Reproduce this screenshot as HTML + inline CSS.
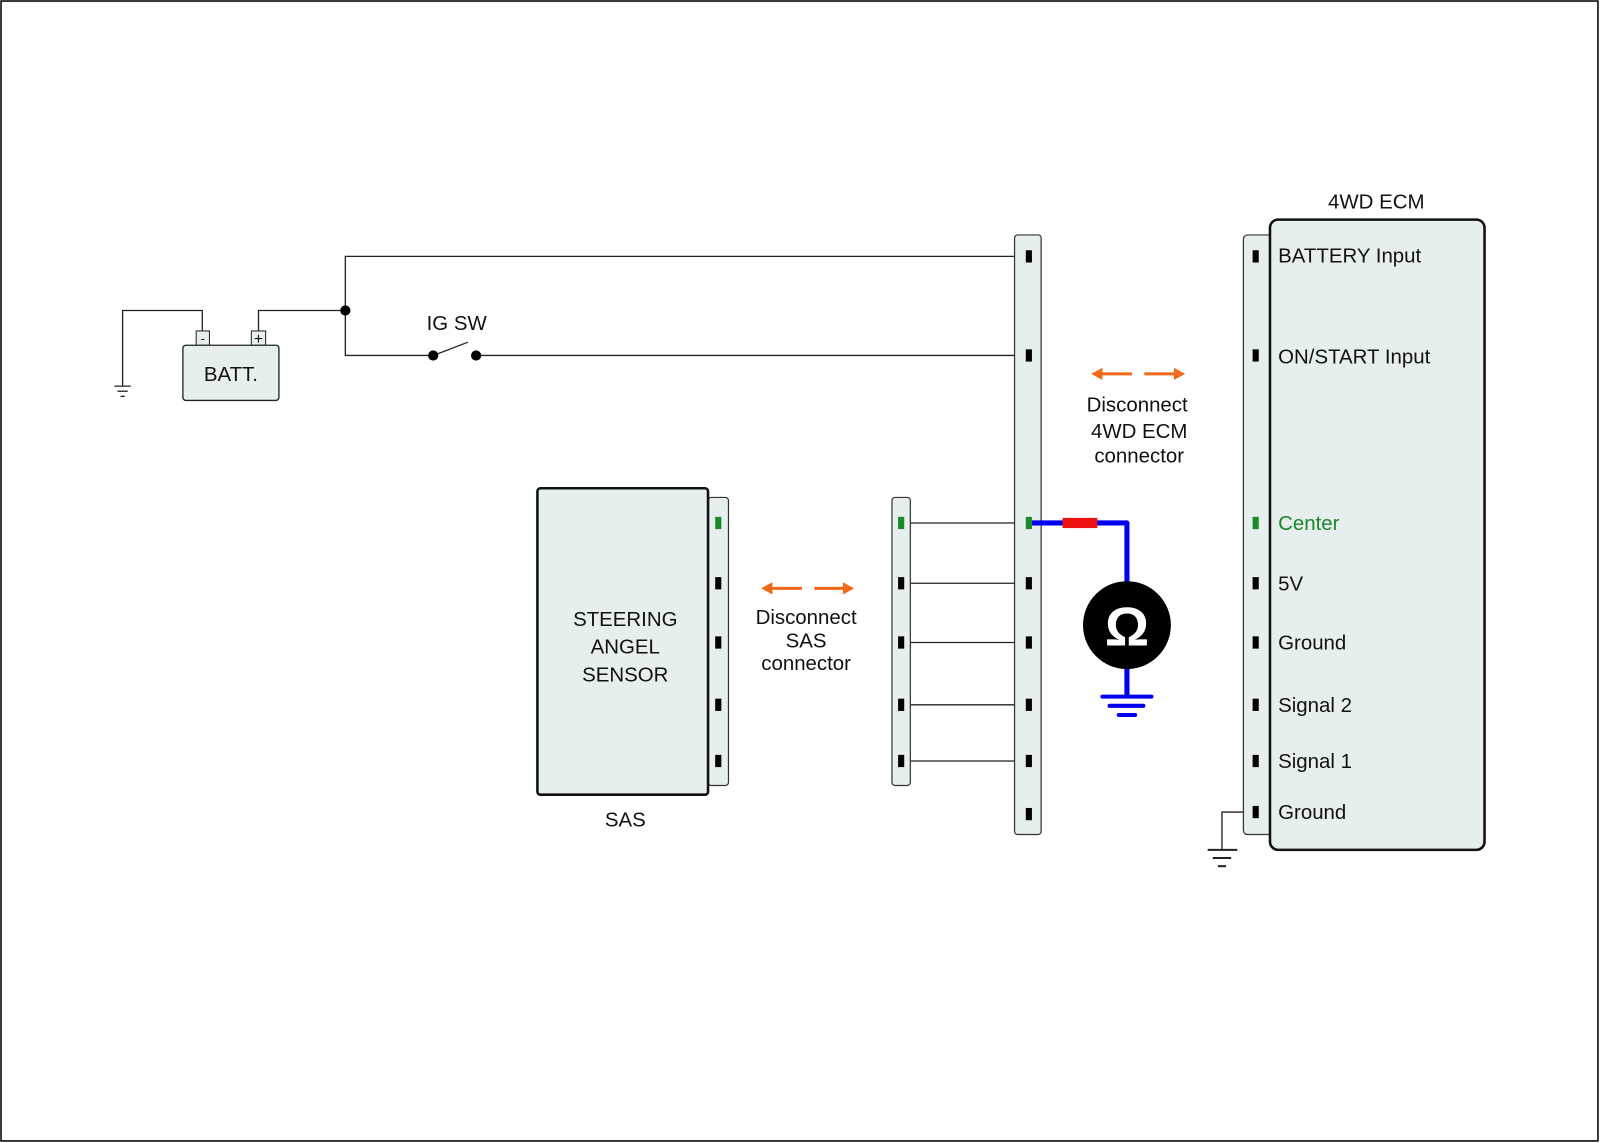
<!DOCTYPE html>
<html><head><meta charset="utf-8"><style>
html,body{margin:0;padding:0;background:#fff}
svg{display:block}
text{font-family:"Liberation Sans",Arial,sans-serif;font-size:20px;fill:#111}
</style></head><body>
<svg width="1600" height="1143" viewBox="0 0 1566 1119" preserveAspectRatio="none" xmlns="http://www.w3.org/2000/svg">
<rect x="1" y="1" width="1563" height="1116" fill="#fff" stroke="#000" stroke-width="1.5"/>
<g stroke="#222" stroke-width="1.3" fill="none">
<polyline points="198,324 198,304 120,304 120,378"/>
<line x1="112" y1="378" x2="128" y2="378"/><line x1="115" y1="383" x2="125" y2="383"/><line x1="118" y1="388" x2="122" y2="388"/>
<polyline points="253,324 253,304 338,304"/>
<polyline points="1007,251 338,251 338,348 424,348"/>
<line x1="466" y1="348" x2="1007" y2="348"/>
<line x1="424" y1="348" x2="458" y2="335"/>
<line x1="882" y1="512" x2="1007" y2="512"/>
<line x1="882" y1="571" x2="1007" y2="571"/>
<line x1="882" y1="629" x2="1007" y2="629"/>
<line x1="882" y1="690" x2="1007" y2="690"/>
<line x1="882" y1="745" x2="1007" y2="745"/>
<polyline points="1229,795 1196,795 1196,832"/>
<line x1="1182" y1="832" x2="1211" y2="832" stroke-width="2"/><line x1="1187" y1="840" x2="1205" y2="840" stroke-width="2"/><line x1="1192" y1="848" x2="1200" y2="848" stroke-width="2"/>
</g>
<circle cx="338" cy="304" r="5" fill="#000"/>
<circle cx="424" cy="348" r="5" fill="#000"/>
<circle cx="466" cy="348" r="5" fill="#000"/>
<text x="447" y="323" text-anchor="middle">IG SW</text>
<!-- battery -->
<rect x="192" y="324" width="13" height="14" fill="#e6eeee" stroke="#222"/>
<rect x="246" y="324" width="14" height="14" fill="#e6eeee" stroke="#222"/>
<text x="198.5" y="336" font-size="13" text-anchor="middle" style="font-size:13px">-</text>
<text x="253" y="337" text-anchor="middle" style="font-size:15px">+</text>
<rect x="179" y="338" width="94" height="54" rx="3" fill="#e6eeee" stroke="#222" stroke-width="1.3"/>
<text x="226" y="373" text-anchor="middle">BATT.</text>
<!-- SAS -->
<rect x="693" y="487" width="20" height="282" rx="3" fill="#e6eeee" stroke="#333" stroke-width="1.2"/>
<rect x="526" y="478" width="167" height="300" rx="3" fill="#e6eeee" stroke="#111" stroke-width="2.5"/>
<text x="612" y="613" text-anchor="middle">STEERING</text>
<text x="612" y="640" text-anchor="middle">ANGEL</text>
<text x="612" y="667" text-anchor="middle">SENSOR</text>
<text x="612" y="809" text-anchor="middle">SAS</text>
<g fill="#000">
<rect x="700" y="565" width="6" height="12"/><rect x="700" y="623" width="6" height="12"/><rect x="700" y="684" width="6" height="12"/><rect x="700" y="739" width="6" height="12"/>
</g>
<rect x="700" y="506" width="6" height="12" fill="#1a8a2a"/>
<!-- middle strip -->
<rect x="873" y="487" width="18" height="282" rx="3" fill="#e6eeee" stroke="#333" stroke-width="1.2"/>
<g fill="#000">
<rect x="879" y="565" width="6" height="12"/><rect x="879" y="623" width="6" height="12"/><rect x="879" y="684" width="6" height="12"/><rect x="879" y="739" width="6" height="12"/>
</g>
<rect x="879" y="506" width="6" height="12" fill="#1a8a2a"/>
<!-- main strip -->
<rect x="993" y="230" width="26" height="587" rx="3" fill="#e6eeee" stroke="#333" stroke-width="1.2"/>
<g fill="#000">
<rect x="1004" y="245" width="6" height="12"/><rect x="1004" y="342" width="6" height="12"/>
<rect x="1004" y="565" width="6" height="12"/><rect x="1004" y="623" width="6" height="12"/><rect x="1004" y="684" width="6" height="12"/><rect x="1004" y="739" width="6" height="12"/><rect x="1004" y="791" width="6" height="12"/>
</g>
<!-- meter -->
<polyline points="1010,512 1103,512 1103,575" fill="none" stroke="#0000ee" stroke-width="5" stroke-linejoin="round"/>
<rect x="1040" y="507" width="34" height="10" fill="#ee1111"/>
<rect x="1004" y="506" width="6" height="12" fill="#1a8a2a"/>
<line x1="1103" y1="650" x2="1103" y2="682" stroke="#0000ee" stroke-width="5"/>
<g stroke="#0000ee" stroke-width="4" stroke-linecap="round">
<line x1="1079" y1="682" x2="1127" y2="682"/><line x1="1086" y1="691" x2="1119" y2="691"/><line x1="1095" y1="700" x2="1111" y2="700"/>
</g>
<circle cx="1103" cy="612" r="43" fill="#000"/>
<text x="1103" y="632" text-anchor="middle" style="font-size:54px;font-weight:bold;fill:#fff">Ω</text>
<!-- arrows -->
<g fill="#f06a1a" stroke="#f06a1a" stroke-width="3">
<line x1="752" y1="576" x2="785" y2="576"/><polygon points="745,576 756,570 756,582" stroke="none"/>
<line x1="797" y1="576" x2="829" y2="576"/><polygon points="836,576 825,570 825,582" stroke="none"/>
<line x1="1075" y1="366" x2="1108" y2="366"/><polygon points="1068,366 1079,360 1079,372" stroke="none"/>
<line x1="1120" y1="366" x2="1153" y2="366"/><polygon points="1160,366 1149,360 1149,372" stroke="none"/>
</g>
<text x="789" y="611" text-anchor="middle">Disconnect</text>
<text x="789" y="634" text-anchor="middle">SAS</text>
<text x="789" y="656" text-anchor="middle">connector</text>
<text x="1113" y="403" text-anchor="middle">Disconnect</text>
<text x="1115" y="429" text-anchor="middle">4WD ECM</text>
<text x="1115" y="453" text-anchor="middle">connector</text>
<!-- ECM -->
<rect x="1217" y="230" width="40" height="587" rx="4" fill="#e6eeee" stroke="#333" stroke-width="1.2"/>
<rect x="1243" y="215" width="210" height="617" rx="8" fill="#e6eeee" stroke="#111" stroke-width="2.5"/>
<text x="1347" y="204" text-anchor="middle">4WD ECM</text>
<g fill="#000">
<rect x="1226" y="245" width="6" height="12"/><rect x="1226" y="342" width="6" height="12"/>
<rect x="1226" y="565" width="6" height="12"/><rect x="1226" y="623" width="6" height="12"/><rect x="1226" y="684" width="6" height="12"/><rect x="1226" y="739" width="6" height="12"/><rect x="1226" y="789" width="6" height="12"/>
</g>
<rect x="1226" y="506" width="6" height="12" fill="#1a8a2a"/>
<text x="1251" y="257">BATTERY Input</text>
<text x="1251" y="356">ON/START Input</text>
<text x="1251" y="519" style="fill:#1a8a2a">Center</text>
<text x="1251" y="578">5V</text>
<text x="1251" y="636">Ground</text>
<text x="1251" y="697">Signal 2</text>
<text x="1251" y="752">Signal 1</text>
<text x="1251" y="802">Ground</text>
</svg>
</body></html>
